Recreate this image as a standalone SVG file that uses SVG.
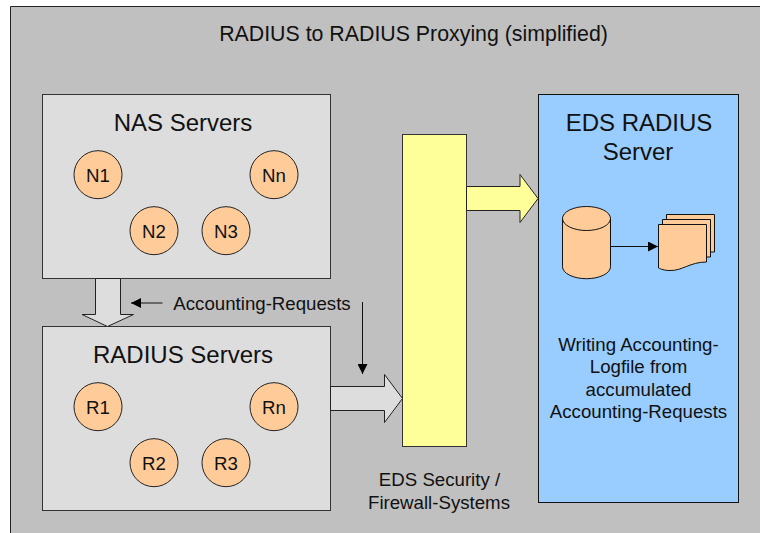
<svg xmlns="http://www.w3.org/2000/svg" width="760" height="533" viewBox="0 0 760 533">
<style>
text{font-family:"Liberation Sans",Arial,sans-serif;fill:#111;text-anchor:middle}
.s{stroke:#222;stroke-width:1}
.box{fill:#ddd;stroke:#333;stroke-width:1}
.c{fill:#fc9;stroke:#222;stroke-width:1}
.big{font-size:24px}.t{font-size:21.33px}.m{font-size:18.67px}
.thin{fill:none;stroke:#111;stroke-width:1}
.o{fill:#fc9;stroke:#111;stroke-width:1}
</style>
<defs><marker id="a" markerUnits="userSpaceOnUse" markerWidth="10" markerHeight="10" refX="10" refY="5" orient="auto"><path d="M0,0L10,5L0,10Z" fill="#000"/></marker></defs>
<rect width="760" height="533" fill="#fff"/>
<rect x="10.500" y="6.500" width="750" height="527" fill="#c0c0c0"/>
<path d="M760,6.500H10.500V533" fill="none" stroke="#222"/>
<text x="413.500" y="41" class="t" id="title">RADIUS to RADIUS Proxying (simplified)</text>
<g id="nas">
<rect class="box" x="42.500" y="94.500" width="288" height="184"/>
<text x="183" y="131" class="big">NAS Servers</text>
</g>
<g id="n1"><circle class="c" cx="98" cy="174.700" r="24"/><text x="98" y="182" class="m">N1</text></g>
<g id="nn"><circle class="c" cx="274" cy="174.700" r="24"/><text x="274" y="182" class="m">Nn</text></g>
<g id="n2"><circle class="c" cx="154" cy="230.700" r="24"/><text x="154" y="238" class="m">N2</text></g>
<g id="n3"><circle class="c" cx="226" cy="230.700" r="24"/><text x="226" y="238" class="m">N3</text></g>
<g id="radius">
<rect class="box" x="42.500" y="326.500" width="288" height="184"/>
<text x="183" y="363" class="big">RADIUS Servers</text>
</g>
<g id="r1"><circle class="c" cx="98" cy="406.700" r="24"/><text x="98" y="414" class="m">R1</text></g>
<g id="rn"><circle class="c" cx="274" cy="406.700" r="24"/><text x="274" y="414" class="m">Rn</text></g>
<g id="r2"><circle class="c" cx="154" cy="462.700" r="24"/><text x="154" y="470" class="m">R2</text></g>
<g id="r3"><circle class="c" cx="226" cy="462.700" r="24"/><text x="226" y="470" class="m">R3</text></g>
<text x="262" y="310" class="m" id="label-accounting">Accounting-Requests</text>
<g id="firewall">
<rect x="402.500" y="134.500" width="64" height="312" fill="#ff9" stroke="#333"/>
<text x="439.500" y="486" class="m">EDS Security /</text>
<text x="439" y="509" class="m">Firewall-Systems</text>
</g>
<g id="eds">
<rect x="538.500" y="94.500" width="200" height="408" fill="#9cf" stroke="#111"/>
<text x="639" y="131" class="big">EDS RADIUS</text>
<text x="638" y="160" class="big">Server</text>
<text x="638.500" y="350.500" class="m">Writing Accounting-</text>
<text x="638.500" y="373" class="m">Logfile from</text>
<text x="638.500" y="395.500" class="m">accumulated</text>
<text x="638.500" y="417.500" class="m">Accounting-Requests</text>
</g>
<g id="database">
<path class="o" d="M562.500,218.500V266.700A24,12 0 0 0 610.500,266.700V218.500A24,12 0 0 0 562.500,218.500Z"/>
<path class="thin" d="M562.500,218.500A24,12 0 0 0 610.500,218.500"/>
</g>
<g id="logfile">
<path class="o" d="M666.500,214.500H714.500V252H666.500Z"/>
<path class="o" d="M662.500,219.500H710.500V257H662.500Z"/>
<path class="o" d="M658.500,224.500H706.500V262C690,262 682,271 670,270.500C664,270.500 661,269 658.500,268Z"/>
</g>
<g id="connectors">
<path class="s" fill="#ddd" d="M95.500,278.500V314.500H82L107.500,326.500L133.500,314.500H120.500V278.500Z"/>
<path class="s" fill="#ddd" d="M330.500,386.500H384.500V374.500L402.500,398.500L384.500,422.500V410.500H330.500Z"/>
<path class="s" fill="#ff9" d="M466.500,186.500H520V174.500L538,198.500L520,222.500V210.500H466.500Z"/>
<path class="thin" d="M162.500,303H131" marker-end="url(#a)"/>
<path class="thin" d="M362.500,302V374" marker-end="url(#a)"/>
<path class="thin" d="M610.500,246.500H658" marker-end="url(#a)"/>
</g>
</svg>
